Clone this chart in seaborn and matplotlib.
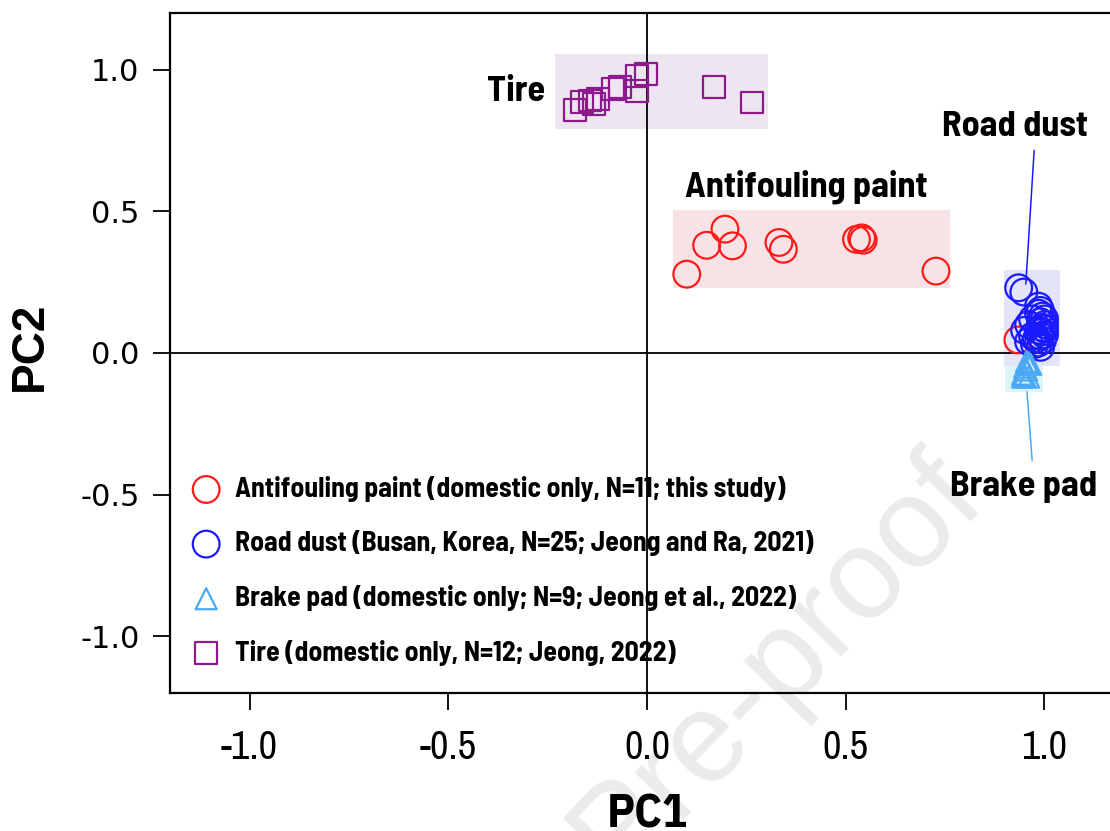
import matplotlib
matplotlib.use("Agg")
import matplotlib.pyplot as plt
from matplotlib.patches import Rectangle
import pandas as pd
import seaborn as sns

# ---- PCA scores (PC1, PC2) per source group ----
antifouling_pc1 = [0.100, 0.150, 0.196, 0.215, 0.332, 0.343, 0.527, 0.540, 0.544, 0.727, 0.933]
antifouling_pc2 = [0.278, 0.380, 0.437, 0.378, 0.390, 0.366, 0.401, 0.406, 0.398, 0.289, 0.046]

road_pc1 = [0.935, 0.948, 0.985, 0.990, 0.995, 1.000, 0.990, 1.000, 0.995, 1.000,
            0.985, 0.995, 1.000, 0.990, 0.980, 0.995, 0.985, 0.975, 0.960, 0.950,
            0.960, 0.970, 0.985, 0.990, 0.970]
road_pc2 = [0.230, 0.215, 0.165, 0.150, 0.130, 0.120, 0.110, 0.100, 0.090, 0.085,
            0.080, 0.075, 0.065, 0.060, 0.050, 0.045, 0.035, 0.030, 0.040, 0.080,
            0.100, 0.120, 0.140, 0.020, 0.060]

brake_pc1 = [0.955, 0.960, 0.965, 0.950, 0.955, 0.945, 0.950, 0.960, 0.945]
brake_pc2 = [-0.030, -0.035, -0.040, -0.050, -0.060, -0.075, -0.080, -0.085, -0.085]

tire_pc1 = [-0.181, -0.164, -0.143, -0.123, -0.133, -0.086, -0.068, -0.025, -0.025, -0.003, 0.169, 0.264]
tire_pc2 = [0.856, 0.887, 0.891, 0.898, 0.880, 0.933, 0.940, 0.926, 0.979, 0.986, 0.940, 0.884]

legend_labels = [
    "Antifouling paint (domestic only, N=11; this study)",
    "Road dust (Busan, Korea, N=25; Jeong and Ra, 2021)",
    "Brake pad (domestic only; N=9; Jeong et al., 2022)",
    "Tire (domestic only, N=12; Jeong, 2022)",
]
x_ticks = [-1.0, -0.5, 0.0, 0.5, 1.0]
y_ticks = [-1.0, -0.5, 0.0, 0.5, 1.0]

frames = []
for lab, xs, ys in zip(legend_labels,
                       [antifouling_pc1, road_pc1, brake_pc1, tire_pc1],
                       [antifouling_pc2, road_pc2, brake_pc2, tire_pc2]):
    frames.append(pd.DataFrame({"PC1": xs, "PC2": ys, "group": lab}))
df = pd.concat(frames, ignore_index=True)

colors = ["#ff1a1a", "#1a1aff", "#4aa8f5", "#8c1a8c"]
markers = ["o", "o", "^", "s"]
sizes = [370, 370, 230, 250]

sns.set_style("white")
plt.rcParams["font.family"] = ["Liberation Sans", "DejaVu Sans"]
plt.rcParams["text.color"] = "black"
plt.rcParams["axes.labelcolor"] = "black"

COND = ["Barlow Semi Condensed", "DejaVu Sans"]
NARROW = ["Archivo Narrow", "DejaVu Sans"]

fig = plt.figure(figsize=(11.10, 8.31), dpi=100)
ax = fig.add_axes([0.1532, 0.1661, 0.8594, 0.8183])
ax.set_facecolor("none")

# shaded regions around each cluster
boxes = [
    ((0.065, 0.229), 0.697, 0.275, "#f7e3e6"),
    ((0.898, -0.046), 0.141, 0.338, "#e4e4f8"),
    ((0.900, -0.137), 0.096, 0.091, "#dcf5fb"),
    ((-0.231, 0.792), 0.535, 0.264, "#ede6f1"),
]
for (x0, y0), w, h, fc in boxes:
    ax.add_patch(Rectangle((x0, y0), w, h, facecolor=fc, edgecolor="none", zorder=0))

ax.axhline(0, color="black", lw=1.3, zorder=1)
ax.axvline(0, color="black", lw=1.3, zorder=1)

for lab, c, m, s in zip(legend_labels, colors, markers, sizes):
    sub = df[df["group"] == lab]
    sns.scatterplot(data=sub, x="PC1", y="PC2", ax=ax, marker=m, s=s,
                    color=c, facecolor="none", edgecolor=c, linewidth=1.6,
                    label=lab, zorder=3)

# group labels
lab_kw = dict(fontfamily=COND, fontweight="bold", fontsize=26, color="black")
ax.text(-0.257, 0.922, "Tire", ha="right", va="center", **lab_kw)
ax.text(0.40, 0.588, "Antifouling paint", ha="center", va="center", **lab_kw)
ax.text(0.926, 0.796, "Road dust", ha="center", va="center", **lab_kw)
ax.text(0.948, -0.472, "Brake pad", ha="center", va="center", **lab_kw)
ax.plot([0.974, 0.953], [0.715, 0.243], color="#1a1aff", lw=1.1, zorder=2)
ax.plot([0.956, 0.969], [-0.137, -0.380], color="#4aa8f5", lw=1.1, zorder=2)

ax.set_xlim(-1.2, 1.2)
ax.set_ylim(-1.2, 1.2)
ax.set_xticks(x_ticks)
ax.set_yticks(y_ticks)
ax.set_xticklabels([f"{v:.1f}" for v in x_ticks], fontfamily=NARROW, fontsize=29)
ax.set_yticklabels([f"{v:.1f}" for v in y_ticks], fontfamily=["DejaVu Sans"], fontsize=22)
ax.tick_params(axis="x", direction="out", length=12, width=1.3, pad=14, colors="black")
ax.tick_params(axis="y", direction="out", length=12, width=1.3, pad=10, colors="black")
ax.xaxis.set_ticks_position("bottom")
ax.yaxis.set_ticks_position("left")
for sp in ax.spines.values():
    sp.set_linewidth(1.6)
    sp.set_color("black")

ax.set_xlabel("PC1", fontfamily=["IBM Plex Sans Condensed", "DejaVu Sans"],
              fontweight="bold", fontsize=34)
ax.set_ylabel("PC2", fontfamily=["Liberation Sans", "DejaVu Sans"],
              fontweight="bold", fontsize=33)
ax.xaxis.set_label_coords(0.5, -0.148)
ax.yaxis.set_label_coords(-0.124, 0.51)

leg = ax.legend(loc="upper left", bbox_to_anchor=(0.0, 0.348), frameon=False,
                prop={"family": COND, "weight": "bold", "size": 20},
                handletextpad=0.45, labelspacing=1.03, borderaxespad=0.3,
                handlelength=1.2, labelcolor="black")

# journal watermark
fig.text(0.70, 0.20, "Pre-proof", rotation=46, fontsize=92, color="#ebebeb",
         ha="center", va="center", fontfamily=["Liberation Sans", "DejaVu Sans"],
         zorder=-5)

fig.savefig("out.png", dpi=100)
